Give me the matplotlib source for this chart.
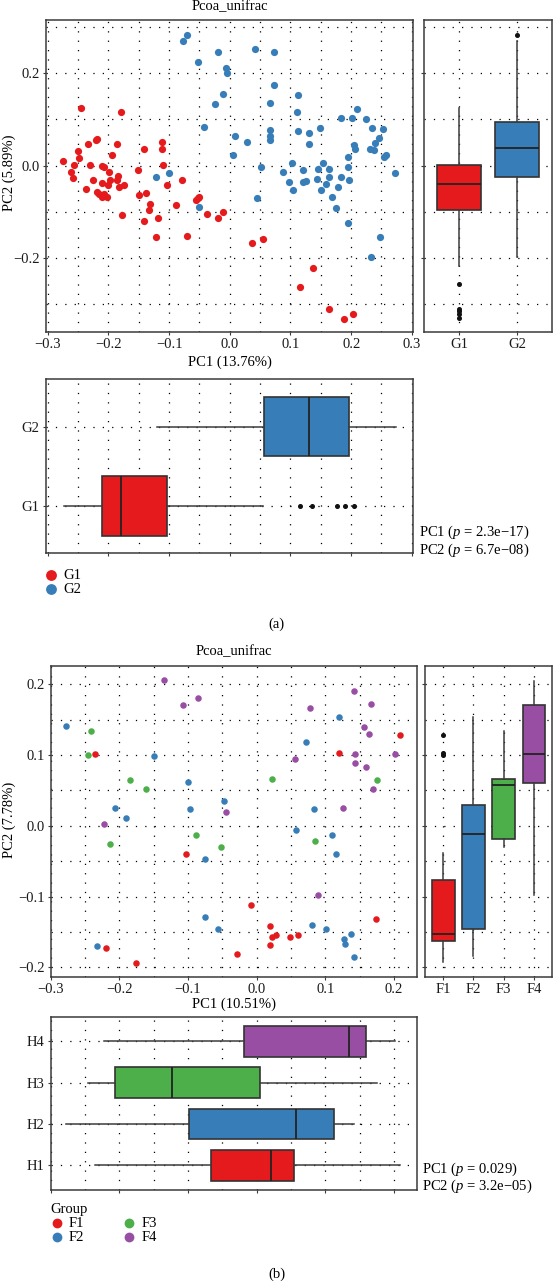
import matplotlib
matplotlib.use("Agg")
import matplotlib.pyplot as plt
from matplotlib.ticker import MultipleLocator, FixedLocator, FuncFormatter, NullFormatter

plt.rcParams['font.family'] = ['Liberation Serif', 'DejaVu Serif']
plt.rcParams['mathtext.fontset'] = 'custom'
plt.rcParams['mathtext.rm'] = 'Liberation Serif'
plt.rcParams['mathtext.it'] = 'Liberation Serif:italic'

# ---------------- data : panel (a) ----------------
g1_pc1 = [-0.275, -0.262, -0.259, -0.257, -0.250, -0.248, -0.245, -0.237, -0.233, -0.230, -0.225, -0.221,
          -0.219, -0.219, -0.215, -0.211, -0.211, -0.208, -0.210, -0.207, -0.202, -0.199, -0.200, -0.197,
          -0.194, -0.186, -0.186, -0.185, -0.183, -0.179, -0.175, -0.177, -0.152, -0.149, -0.142, -0.138,
          -0.141, -0.134, -0.131, -0.122, -0.119, -0.111, -0.112, -0.110, -0.104, -0.088, -0.078, -0.070,
          -0.056, -0.052, -0.050, -0.037, -0.020, -0.011, 0.036, 0.055, 0.116, 0.137, 0.164, 0.189, 0.203]
g1_pc2 = [0.011, -0.014, -0.027, 0.001, 0.032, 0.017, 0.125, -0.050, 0.047, 0.002, -0.032, 0.056,
          0.057, -0.058, -0.061, -0.037, -0.001, -0.002, -0.068, -0.061, -0.067, -0.013, -0.042, -0.032,
          0.022, 0.047, -0.032, -0.023, -0.047, 0.115, -0.041, -0.107, -0.009, -0.063, 0.035, -0.059,
          -0.119, -0.097, -0.082, -0.155, -0.113, 0.050, 0.035, 0.002, -0.042, -0.085, -0.032, -0.152,
          -0.074, -0.071, -0.068, -0.105, -0.114, -0.100, -0.167, -0.159, -0.262, -0.222, -0.311, -0.331, -0.320]
g2_pc1 = [-0.077, -0.071, -0.053, -0.042, -0.025, -0.019, -0.012, -0.007, -0.004, 0.005, 0.009, 0.028,
          0.042, 0.045, 0.052, 0.067, 0.066, 0.067, 0.067, 0.073, 0.073, 0.087, 0.098, -0.121, -0.100,
          -0.051, 0.112, 0.111, 0.112, 0.102, 0.104, 0.120, 0.120, 0.125, 0.131, 0.131, 0.143, 0.145,
          0.148, 0.151, 0.153, 0.158, 0.163, 0.164, 0.168, 0.175, 0.178, 0.183, 0.184, 0.195, 0.195,
          0.196, 0.195, 0.202, 0.204, 0.207, 0.209, 0.225, 0.231, 0.235, 0.238, 0.240, 0.246, 0.253,
          0.254, 0.258, 0.273, 0.248, 0.233]
g2_pc2 = [0.269, 0.283, 0.225, 0.083, 0.133, 0.245, 0.155, 0.211, 0.200, 0.022, 0.063, 0.050,
          0.252, -0.071, -0.002, 0.135, 0.056, 0.065, 0.076, 0.246, 0.175, -0.014, -0.036, -0.024, -0.016,
          -0.089, 0.153, 0.117, 0.074, 0.005, -0.052, -0.009, -0.036, -0.034, 0.071, 0.047, -0.029, -0.007,
          0.081, -0.052, 0.005, -0.040, -0.007, -0.025, -0.067, -0.091, -0.047, 0.104, -0.025, 0.019, -0.004,
          -0.031, -0.125, 0.104, 0.045, 0.035, 0.123, 0.100, 0.035, 0.081, 0.034, 0.048, 0.060, 0.079,
          0.018, 0.022, -0.016, -0.155, -0.197]

a_groups = ['G1', 'G2']
a_colors = ['#E41A1C', '#377EB8']
# PC2 box (right)
a_pc2_whislo = [-0.218, -0.197]
a_pc2_q1 = [-0.095, -0.024]
a_pc2_med = [-0.039, 0.037]
a_pc2_q3 = [0.002, 0.095]
a_pc2_whishi = [0.125, 0.270]
a_pc2_fliers = [[-0.257, -0.310, -0.315, -0.322, -0.330], [0.283]]
# PC1 box (below)
a_pc1_whislo = [-0.274, -0.120]
a_pc1_q1 = [-0.210, 0.056]
a_pc1_med = [-0.179, 0.131]
a_pc1_q3 = [-0.103, 0.197]
a_pc1_whishi = [0.055, 0.274]
a_pc1_fliers = [[0.116, 0.136, 0.177, 0.190, 0.204], []]

# ---------------- data : panel (b) ----------------
f1_pc1 = [-0.236, -0.103, -0.009, 0.020, 0.022, 0.028, 0.019, 0.048, 0.060, -0.029, -0.220, -0.176, 0.209, 0.120, 0.174]
f1_pc2 = [0.101, -0.040, -0.112, -0.142, -0.157, -0.154, -0.168, -0.157, -0.154, -0.181, -0.172, -0.193, 0.128, 0.103, -0.132]
f2_pc1 = [-0.277, -0.150, -0.100, -0.206, -0.191, -0.097, -0.048, -0.075, -0.075, -0.057, -0.232, 0.120,
          0.072, 0.083, 0.057, 0.110, 0.116, 0.080, 0.101, 0.138, 0.127, 0.128, 0.141]
f2_pc2 = [0.141, 0.099, 0.062, 0.025, 0.011, 0.024, 0.035, -0.047, -0.129, -0.146, -0.170, 0.154,
          0.118, 0.024, -0.006, -0.013, -0.040, -0.140, -0.146, -0.153, -0.160, -0.167, -0.185]
f3_pc1 = [-0.242, -0.245, -0.184, -0.161, -0.213, -0.088, -0.052, 0.023, 0.175, 0.085]
f3_pc2 = [0.134, 0.100, 0.064, 0.052, -0.025, -0.013, -0.030, 0.066, 0.064, -0.022]
f4_pc1 = [-0.135, -0.108, -0.085, -0.044, -0.223, 0.141, 0.166, 0.077, 0.156, 0.163, 0.143, 0.143,
          0.056, 0.201, 0.159, 0.169, 0.126, 0.089]
f4_pc2 = [0.206, 0.171, 0.181, 0.019, 0.003, 0.190, 0.172, 0.166, 0.139, 0.130, 0.102, 0.089,
          0.094, 0.101, 0.083, 0.052, 0.025, -0.098]

b_groups = ['F1', 'F2', 'F3', 'F4']
b_box_labels = ['H1', 'H2', 'H3', 'H4']
b_colors = ['#E41A1C', '#377EB8', '#4DAF4A', '#984EA3']
# PC2 box (right)
b_pc2_whislo = [-0.192, -0.184, -0.030, -0.098]
b_pc2_q1 = [-0.162, -0.145, -0.019, 0.060]
b_pc2_med = [-0.153, -0.012, 0.058, 0.102]
b_pc2_q3 = [-0.076, 0.030, 0.066, 0.170]
b_pc2_whishi = [-0.039, 0.154, 0.134, 0.205]
b_pc2_fliers = [[0.128, 0.103, 0.100], [], [], []]
# PC1 box (below)
b_pc1_whislo = [-0.235, -0.277, -0.246, -0.222]
b_pc1_q1 = [-0.067, -0.098, -0.206, -0.019]
b_pc1_med = [0.021, 0.057, -0.124, 0.134]
b_pc1_q3 = [0.055, 0.113, 0.005, 0.159]
b_pc1_whishi = [0.209, 0.141, 0.175, 0.201]
b_pc1_fliers = [[], [], [], []]

# ---------------- figure ----------------
W, H = 553, 1283
fig = plt.figure(figsize=(W / 100, H / 100), dpi=100)
FS = 10.5
FRAME = '#3a3a3a'
EDGE = '#333333'


def add_ax(left, top, right, bottom):
    return fig.add_axes([left / W, 1 - bottom / H, (right - left) / W, (bottom - top) / H])


def fmt(v, pos):
    s = '%.1f' % v
    if s == '-0.0':
        s = '0.0'
    return s.replace('-', '\u2212')


def style(ax):
    for sp in ax.spines.values():
        sp.set_color(FRAME)
        sp.set_linewidth(1.1)
    ax.tick_params(which='major', direction='out', length=2.5, width=0.8, color=FRAME,
                   labelsize=FS, pad=2, labelcolor='#1a1a1a')
    ax.tick_params(which='minor', length=0)
    ax.grid(which='both', color='black', linestyle=(0, (1, 6.5)), linewidth=0.9)
    ax.set_axisbelow(True)


def stats(whislo, q1, med, q3, whishi, fliers):
    return [dict(whislo=a, q1=b, med=c, q3=d, whishi=e, fliers=f)
            for a, b, c, d, e, f in zip(whislo, q1, med, q3, whishi, fliers)]


def draw_box(ax, st, colors, orient):
    n = len(st)
    res = ax.bxp(st, positions=list(range(1, n + 1)), widths=0.75, orientation=orient,
                 patch_artist=True, showcaps=False, manage_ticks=False,
                 boxprops=dict(edgecolor=EDGE, linewidth=1.2),
                 whiskerprops=dict(color='#3c3c3c', linewidth=1.1),
                 medianprops=dict(color='#222222', linewidth=1.3),
                 flierprops=dict(marker='o', markerfacecolor='#111111', markeredgecolor='#111111',
                                 markersize=2.6, linestyle='none'))
    for patch, c in zip(res['boxes'], colors):
        patch.set_facecolor(c)
    return res


# ======== panel (a) ========
a_xlim = (-0.303, 0.302)
a_ylim = (-0.36, 0.315)

ax1 = add_ax(46, 20, 413, 332)
ax1.scatter(g1_pc1, g1_pc2, s=27, color=a_colors[0], linewidths=0, zorder=3, label='G1')
ax1.scatter(g2_pc1, g2_pc2, s=27, color=a_colors[1], linewidths=0, zorder=3, label='G2')
ax1.set_xlim(*a_xlim)
ax1.set_ylim(*a_ylim)
ax1.xaxis.set_major_locator(MultipleLocator(0.1))
ax1.xaxis.set_minor_locator(MultipleLocator(0.05))
ax1.yaxis.set_major_locator(MultipleLocator(0.2))
ax1.yaxis.set_minor_locator(MultipleLocator(0.1))
ax1.xaxis.set_major_formatter(FuncFormatter(fmt))
ax1.yaxis.set_major_formatter(FuncFormatter(fmt))
style(ax1)

ax2 = add_ax(424, 20, 552, 332)
draw_box(ax2, stats(a_pc2_whislo, a_pc2_q1, a_pc2_med, a_pc2_q3, a_pc2_whishi, a_pc2_fliers), a_colors, 'vertical')
ax2.set_xlim(0.4, 2.6)
ax2.set_ylim(*a_ylim)
ax2.xaxis.set_major_locator(FixedLocator([1, 2]))
ax2.set_xticklabels(a_groups)
ax2.yaxis.set_major_locator(MultipleLocator(0.2))
ax2.yaxis.set_minor_locator(MultipleLocator(0.1))
ax2.yaxis.set_major_formatter(NullFormatter())
style(ax2)

ax3 = add_ax(46, 379.3, 413, 553.3)
draw_box(ax3, stats(a_pc1_whislo, a_pc1_q1, a_pc1_med, a_pc1_q3, a_pc1_whishi, a_pc1_fliers), a_colors, 'horizontal')
ax3.set_xlim(*a_xlim)
ax3.set_ylim(0.4, 2.6)
ax3.xaxis.set_major_locator(MultipleLocator(0.1))
ax3.xaxis.set_minor_locator(MultipleLocator(0.05))
ax3.xaxis.set_major_formatter(NullFormatter())
ax3.yaxis.set_major_locator(FixedLocator([1, 2]))
ax3.set_yticklabels(a_groups)
style(ax3)

fig.text(229.5 / W, 1 - 7 / H, 'Pcoa_unifrac', ha='center', va='center', fontsize=FS)
fig.text(9 / W, 1 - 173 / H, 'PC2 (5.89%)', ha='center', va='center', rotation=90, fontsize=FS)
fig.text(229.5 / W, 1 - 362 / H, 'PC1 (13.76%)', ha='center', va='center', fontsize=FS)
fig.text(419 / W, 1 - 532.7 / H, 'PC1 ($p$ = 2.3e\u221217)', ha='left', va='center', fontsize=FS)
fig.text(419 / W, 1 - 550.7 / H, 'PC2 ($p$ = 6.7e\u221208)', ha='left', va='center', fontsize=FS)
fig.legend(handles=[ax1.collections[0], ax1.collections[1]], labels=a_groups, loc='upper left',
           bbox_to_anchor=(44 / W, 1 - 569 / H), frameon=False, fontsize=FS, handlelength=0.9,
           handletextpad=0.4, labelspacing=0.05, borderpad=0, borderaxespad=0, markerscale=1.5)
fig.text(276.5 / W, 1 - 624 / H, '(a)', ha='center', va='center', fontsize=FS)

# ======== panel (b) ========
b_xlim = (-0.3, 0.233)
b_ylim = (-0.213, 0.226)

bx1 = add_ax(50.7, 665.7, 416.7, 976.7)
for xs, ys, c, lab in zip([f1_pc1, f2_pc1, f3_pc1, f4_pc1], [f1_pc2, f2_pc2, f3_pc2, f4_pc2], b_colors, b_groups):
    bx1.scatter(xs, ys, s=22, color=c, linewidths=0, zorder=3, label=lab)
bx1.set_xlim(*b_xlim)
bx1.set_ylim(*b_ylim)
bx1.xaxis.set_major_locator(MultipleLocator(0.1))
bx1.xaxis.set_minor_locator(MultipleLocator(0.05))
bx1.yaxis.set_major_locator(MultipleLocator(0.1))
bx1.yaxis.set_minor_locator(MultipleLocator(0.05))
bx1.xaxis.set_major_formatter(FuncFormatter(fmt))
bx1.yaxis.set_major_formatter(FuncFormatter(fmt))
style(bx1)

bx2 = add_ax(425, 665.7, 552.3, 976.7)
draw_box(bx2, stats(b_pc2_whislo, b_pc2_q1, b_pc2_med, b_pc2_q3, b_pc2_whishi, b_pc2_fliers), b_colors, 'vertical')
bx2.set_xlim(0.4, 4.6)
bx2.set_ylim(*b_ylim)
bx2.xaxis.set_major_locator(FixedLocator([1, 2, 3, 4]))
bx2.set_xticklabels(b_groups)
bx2.yaxis.set_major_locator(MultipleLocator(0.1))
bx2.yaxis.set_minor_locator(MultipleLocator(0.05))
bx2.yaxis.set_major_formatter(NullFormatter())
style(bx2)

bx3 = add_ax(50.7, 1016.7, 416.7, 1190)
draw_box(bx3, stats(b_pc1_whislo, b_pc1_q1, b_pc1_med, b_pc1_q3, b_pc1_whishi, b_pc1_fliers), b_colors, 'horizontal')
bx3.set_xlim(*b_xlim)
bx3.set_ylim(0.4, 4.6)
bx3.xaxis.set_major_locator(MultipleLocator(0.1))
bx3.xaxis.set_minor_locator(MultipleLocator(0.05))
bx3.xaxis.set_major_formatter(NullFormatter())
bx3.yaxis.set_major_locator(FixedLocator([1, 2, 3, 4]))
bx3.set_yticklabels(b_box_labels)
style(bx3)

fig.text(233.7 / W, 1 - 652 / H, 'Pcoa_unifrac', ha='center', va='center', fontsize=FS)
fig.text(9 / W, 1 - 820 / H, 'PC2 (7.78%)', ha='center', va='center', rotation=90, fontsize=FS)
fig.text(233.7 / W, 1 - 1004 / H, 'PC1 (10.51%)', ha='center', va='center', fontsize=FS)
fig.text(422.5 / W, 1 - 1169.3 / H, 'PC1 ($p$ = 0.029)', ha='left', va='center', fontsize=FS)
fig.text(422.5 / W, 1 - 1186 / H, 'PC2 ($p$ = 3.2e\u221205)', ha='left', va='center', fontsize=FS)
fig.legend(handles=list(bx1.collections[:4]), labels=b_groups, loc='upper left', ncol=2,
           title='Group', title_fontsize=FS, alignment='left',
           bbox_to_anchor=(50 / W, 1 - 1203 / H), frameon=False, fontsize=FS, handlelength=0.9,
           handletextpad=0.4, labelspacing=0.05, borderpad=0, borderaxespad=0, markerscale=1.5,
           columnspacing=2.6)
fig.text(276.5 / W, 1 - 1274 / H, '(b)', ha='center', va='center', fontsize=FS)

fig.savefig('out.png', dpi=100)
